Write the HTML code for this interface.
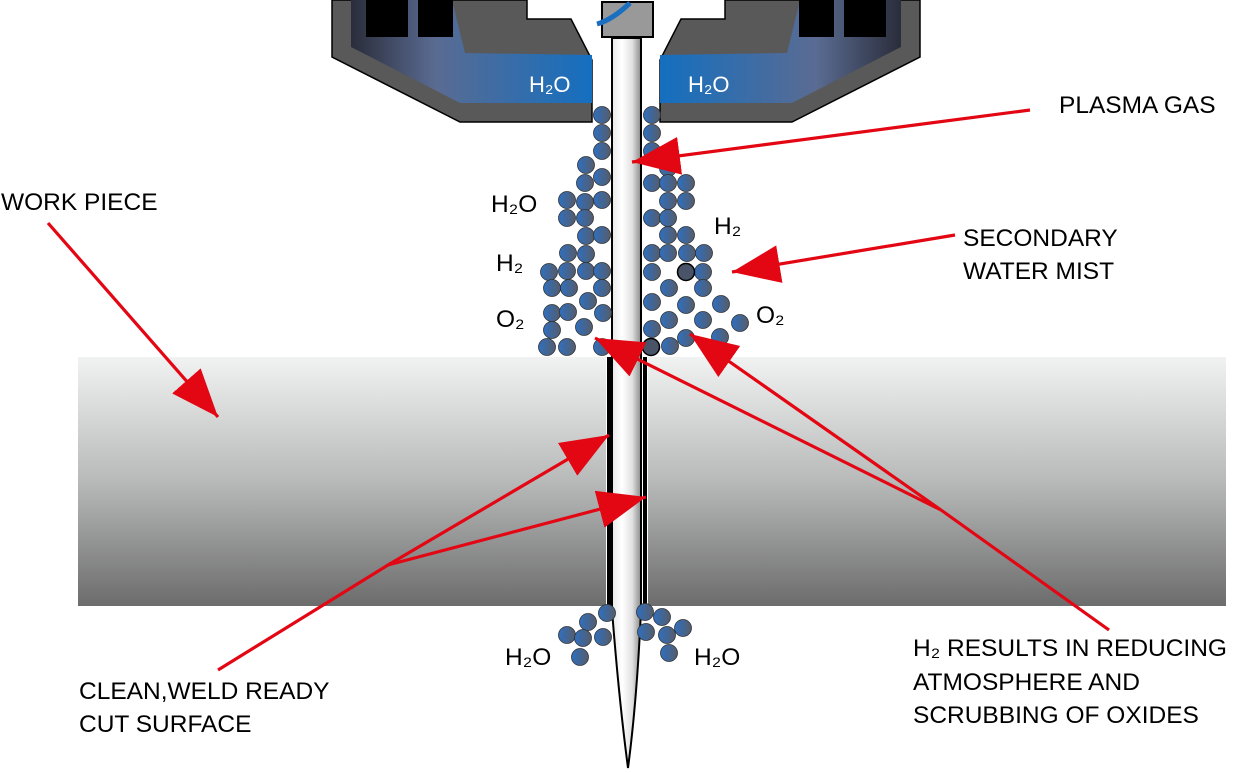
<!DOCTYPE html>
<html><head><meta charset="utf-8"><style>
html,body{margin:0;padding:0;background:#fff}
svg{display:block}
text{font-family:"Liberation Sans",Arial,sans-serif;font-size:24.5px;fill:#000}
</style></head><body>
<svg width="1236" height="773" viewBox="0 0 1236 773" xmlns="http://www.w3.org/2000/svg">
<defs>
<linearGradient id="wp" x1="0" y1="0" x2="0" y2="1"><stop offset="0" stop-color="#f1f2f2"/><stop offset="0.5" stop-color="#b8b9b9"/><stop offset="1" stop-color="#6c6c6c"/></linearGradient>
<linearGradient id="bl" x1="0" y1="0" x2="1" y2="0"><stop offset="0" stop-color="#2a2d3a"/><stop offset="0.35" stop-color="#5a6b92"/><stop offset="1" stop-color="#146fc0"/></linearGradient>
<linearGradient id="br" x1="1" y1="0" x2="0" y2="0"><stop offset="0" stop-color="#2a2d3a"/><stop offset="0.35" stop-color="#5a6b92"/><stop offset="1" stop-color="#146fc0"/></linearGradient>
<linearGradient id="col" x1="0" y1="0" x2="1" y2="0"><stop offset="0" stop-color="#e8e8e8"/><stop offset="0.35" stop-color="#ffffff"/><stop offset="0.7" stop-color="#e0e0e0"/><stop offset="1" stop-color="#8a8a8a"/></linearGradient>
<linearGradient id="bub" x1="0" y1="0" x2="1" y2="0"><stop offset="0" stop-color="#2f6fbf"/><stop offset="1" stop-color="#555c6c"/></linearGradient>
<marker id="ah" markerUnits="userSpaceOnUse" markerWidth="50" markerHeight="40" refX="48" refY="19" orient="auto"><path d="M0,0 L48,19 L0,38 Z" fill="#e30613"/></marker>
</defs>

<rect x="78" y="357" width="1148" height="249" fill="url(#wp)"/>

<path d="M332,0 L527,0 L527,19 L571,19 L592,60 L592,122 L460,122 L332,57 Z" fill="#595959" stroke="#000" stroke-width="1.5"/>
<path d="M351,0 L452,0 L465,53 L592,55 L592,103 L460,103 L351,47 Z" fill="url(#bl)"/>
<rect x="366" y="0" width="42" height="37" fill="#000"/>
<rect x="418" y="0" width="35" height="37" fill="#000"/>
<path d="M920,0 L725,0 L725,19 L681,19 L660,60 L660,122 L792,122 L920,57 Z" fill="#595959" stroke="#000" stroke-width="1.5"/>
<path d="M901,0 L800,0 L787,53 L660,55 L660,103 L792,103 L901,47 Z" fill="url(#br)"/>
<rect x="844" y="0" width="42" height="37" fill="#000"/>
<rect x="799" y="0" width="35" height="37" fill="#000"/>
<text x="529" y="92" style="fill:#fff;font-size:22px">H₂O</text>
<text x="688" y="92" style="fill:#fff;font-size:22px">H₂O</text>

<rect x="602" y="2" width="51" height="35" fill="#999" stroke="#000" stroke-width="2"/>
<path d="M597,24 Q612,20 630,3" stroke="#1a6fc0" stroke-width="5" fill="none"/>

<rect x="606" y="357" width="42" height="249" fill="#fff"/>
<rect x="607" y="357" width="4" height="249" fill="#000"/>
<rect x="643" y="357" width="4" height="249" fill="#000"/>

<path d="M612,38 L641,38 L641,610 Q637,700 628,768 Q619,700 612,610 Z" fill="url(#col)" stroke="#000" stroke-width="2"/>

<g fill="url(#bub)" stroke="#333" stroke-width="0.8">
<circle cx="602" cy="115" r="8.5"/><circle cx="602" cy="133" r="8.5"/><circle cx="602" cy="151" r="8.5"/>
<circle cx="586" cy="165" r="8.5"/><circle cx="602" cy="177" r="8.5"/><circle cx="585" cy="183" r="8.5"/>
<circle cx="567" cy="200" r="8.5"/><circle cx="585" cy="202" r="8.5"/><circle cx="602" cy="200" r="8.5"/>
<circle cx="567" cy="218" r="8.5"/><circle cx="585" cy="218" r="8.5"/>
<circle cx="586" cy="236" r="8.5"/><circle cx="602" cy="235" r="8.5"/>
<circle cx="568" cy="253" r="8.5"/><circle cx="586" cy="254" r="8.5"/>
<circle cx="549" cy="272" r="8.5"/><circle cx="567" cy="271" r="8.5"/><circle cx="586" cy="271" r="8.5"/><circle cx="602" cy="271" r="8.5"/>
<circle cx="552" cy="288" r="8.5"/><circle cx="569" cy="288" r="8.5"/><circle cx="602" cy="288" r="8.5"/>
<circle cx="588" cy="301" r="8.5"/>
<circle cx="552" cy="313" r="8.5"/><circle cx="568" cy="312" r="8.5"/><circle cx="603" cy="313" r="8.5"/>
<circle cx="552" cy="330" r="8.5"/><circle cx="584" cy="327" r="8.5"/>
<circle cx="547" cy="347" r="8.5"/><circle cx="567" cy="347" r="8.5"/><circle cx="602" cy="347" r="8.5"/>

<circle cx="652" cy="115" r="8.5"/><circle cx="652" cy="133" r="8.5"/><circle cx="652" cy="151" r="8.5"/>
<circle cx="668" cy="168" r="8.5"/>
<circle cx="652" cy="183" r="8.5"/><circle cx="668" cy="183" r="8.5"/><circle cx="686" cy="183" r="8.5"/>
<circle cx="668" cy="201" r="8.5"/><circle cx="686" cy="201" r="8.5"/>
<circle cx="652" cy="218" r="8.5"/><circle cx="668" cy="218" r="8.5"/>
<circle cx="668" cy="235" r="8.5"/><circle cx="686" cy="235" r="8.5"/>
<circle cx="652" cy="253" r="8.5"/><circle cx="668" cy="253" r="8.5"/><circle cx="687" cy="253" r="8.5"/><circle cx="704" cy="253" r="8.5"/>
<circle cx="652" cy="272" r="8.5"/><circle cx="703" cy="272" r="8.5"/>
<circle cx="669" cy="288" r="8.5"/><circle cx="703" cy="288" r="8.5"/>
<circle cx="652" cy="302" r="8.5"/><circle cx="686" cy="305" r="8.5"/><circle cx="721" cy="304" r="8.5"/>
<circle cx="669" cy="320" r="8.5"/><circle cx="703" cy="320" r="8.5"/><circle cx="740" cy="323" r="8.5"/>
<circle cx="652" cy="329" r="8.5"/><circle cx="686" cy="338" r="8.5"/><circle cx="720" cy="337" r="8.5"/>
<circle cx="670" cy="346" r="8.5"/>

<circle cx="607" cy="613" r="8.5"/><circle cx="588" cy="622" r="8.5"/><circle cx="567" cy="635" r="8.5"/><circle cx="583" cy="638" r="8.5"/><circle cx="603" cy="637" r="8.5"/><circle cx="580" cy="657" r="8.5"/>
<circle cx="645" cy="612" r="8.5"/><circle cx="662" cy="617" r="8.5"/><circle cx="646" cy="632" r="8.5"/><circle cx="667" cy="635" r="8.5"/><circle cx="683" cy="628" r="8.5"/><circle cx="669" cy="653" r="8.5"/>
</g>
<circle cx="686" cy="272" r="8.5" fill="#4a5468" stroke="#000" stroke-width="1.5"/>
<circle cx="651" cy="347" r="8.5" fill="#4a5468" stroke="#000" stroke-width="1.5"/>

<g stroke="#e30613" stroke-width="3.2" fill="none">
<line x1="1030" y1="110" x2="632" y2="162" marker-end="url(#ah)"/>
<line x1="955" y1="235" x2="732" y2="272" marker-end="url(#ah)"/>
<line x1="48" y1="223" x2="218" y2="417" marker-end="url(#ah)"/>
<polyline points="1109,630 941,510"/>
<line x1="941" y1="510" x2="595" y2="338" marker-end="url(#ah)"/>
<line x1="941" y1="510" x2="690" y2="334" marker-end="url(#ah)"/>
<polyline points="218,670 388,565"/>
<line x1="388" y1="565" x2="609" y2="435" marker-end="url(#ah)"/>
<line x1="388" y1="565" x2="646" y2="497" marker-end="url(#ah)"/>
</g>

<text x="1" y="210">WORK PIECE</text>
<text x="1059" y="113">PLASMA GAS</text>
<text x="963" y="246">SECONDARY</text>
<text x="963" y="279">WATER MIST</text>
<text x="491" y="212">H₂O</text>
<text x="496" y="271">H₂</text>
<text x="496" y="327">O₂</text>
<text x="714" y="234">H₂</text>
<text x="756" y="323">O₂</text>
<text x="505" y="665">H₂O</text>
<text x="694" y="665">H₂O</text>
<text x="913" y="656">H₂ RESULTS IN REDUCING</text>
<text x="913" y="690">ATMOSPHERE AND</text>
<text x="913" y="723">SCRUBBING OF OXIDES</text>
<text x="79" y="699">CLEAN,WELD READY</text>
<text x="79" y="732">CUT SURFACE</text>
</svg>
</body></html>
